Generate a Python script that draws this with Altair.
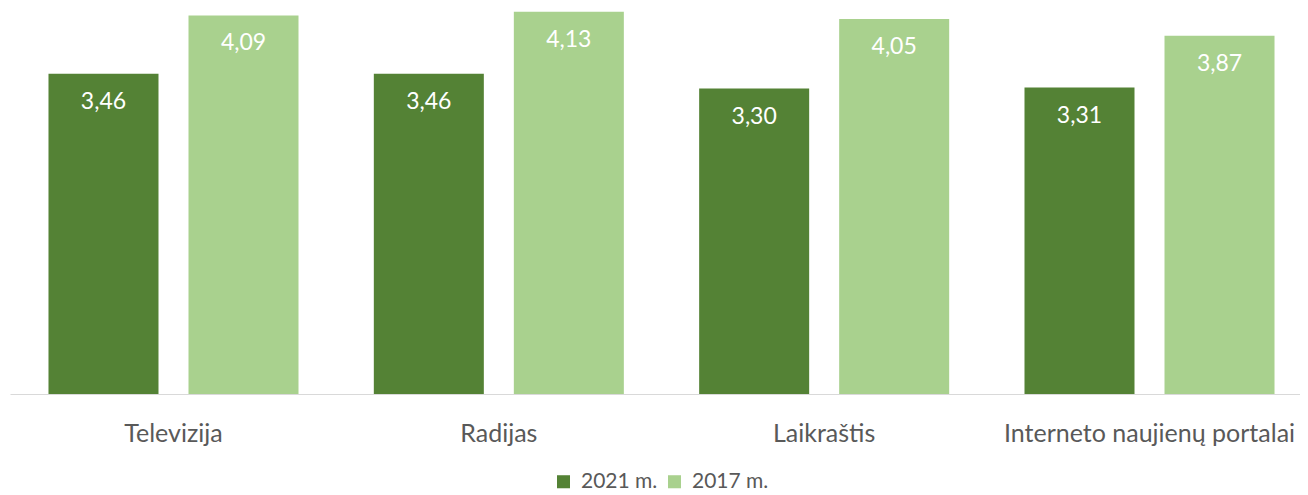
import altair as alt
import pandas as pd

categories = ["Televizija", "Radijas", "Laikraštis", "Interneto naujienų portalai"]
series = ["2021 m.", "2017 m."]
values_2021 = [3.46, 3.46, 3.30, 3.31]
values_2017 = [4.09, 4.13, 4.05, 3.87]
colors = ["#548235", "#A9D18E"]

rows = []
for c, a, b in zip(categories, values_2021, values_2017):
    rows.append({"cat": c, "series": series[0], "value": a, "label": f"{a:.2f}".replace(".", ",")})
    rows.append({"cat": c, "series": series[1], "value": b, "label": f"{b:.2f}".replace(".", ",")})
df = pd.DataFrame(rows)

FONT = "Lato"

x = alt.X(
    "cat:N", sort=categories,
    scale=alt.Scale(paddingInner=0.2315, paddingOuter=0.1183, range=[0, 1303]),
    axis=alt.Axis(title=None, labelAngle=0, ticks=False, domainColor="#d9d9d9",
                  domainWidth=1, labelFont=FONT, labelFontSize=25, labelColor="#595959",
                  labelPadding=27, labelBaseline="top", labelLimit=600),
)
xo = alt.XOffset("series:N", sort=series, scale=alt.Scale(paddingInner=0.2143, paddingOuter=0))
y = alt.Y("value:Q", scale=alt.Scale(domain=[0, 4.17], nice=False, zero=True), axis=None)

bars = alt.Chart(df).mark_bar().encode(
    x=x, xOffset=xo, y=y,
    color=alt.Color(
        "series:N", sort=series,
        scale=alt.Scale(domain=series, range=colors),
        legend=alt.Legend(
            title=None, orient="none", direction="horizontal", legendX=543, legendY=463,
            symbolType="square", symbolSize=170, symbolStrokeWidth=0,
            labelFont=FONT, labelFontSize=21, labelColor="#595959", columnPadding=6,
            labelOffset=7,
        ),
    ),
)
text = alt.Chart(df).mark_text(dy=28, color="white", font=FONT, fontSize=23, baseline="middle").encode(
    x=x, xOffset=xo, y=y, text="label:N"
)

chart = (bars + text).properties(
    width=1290, height=386,
    padding={"left": 2, "top": 0, "right": 0, "bottom": 98},
    autosize=alt.AutoSizeParams(type="none"),
).configure_view(stroke=None)

chart.save("out.html", embed_options={"renderer": "svg", "actions": False})
